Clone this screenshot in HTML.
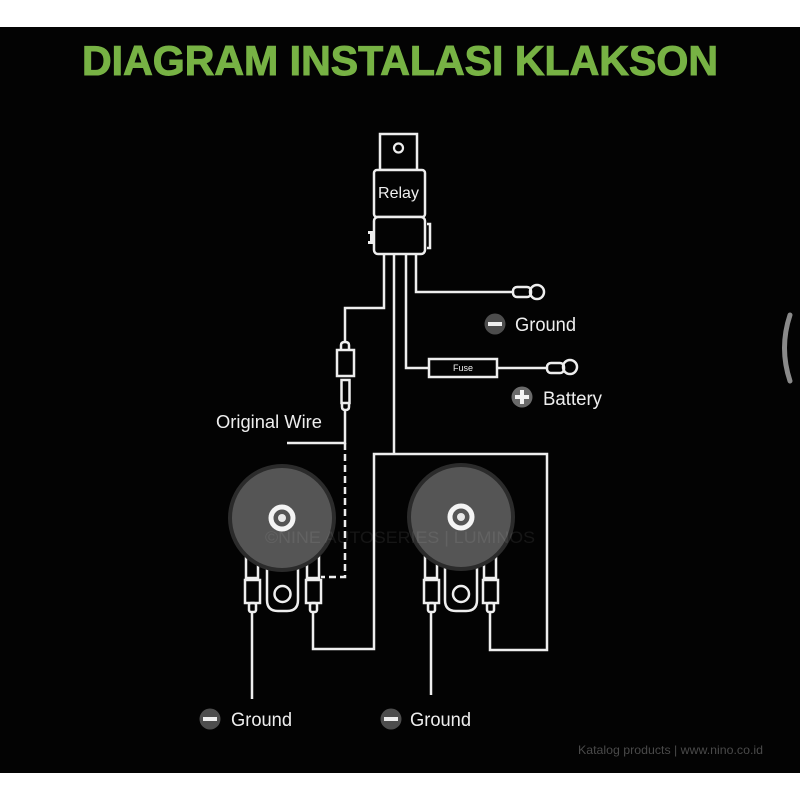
<!DOCTYPE html>
<html>
<head>
<meta charset="utf-8">
<style>
html,body{margin:0;padding:0;background:#fff;}
svg{display:block;}
</style>
</head>
<body>
<svg width="800" height="800" viewBox="0 0 800 800" xmlns="http://www.w3.org/2000/svg">
  <rect x="0" y="0" width="800" height="800" fill="#ffffff"/>
  <rect x="0" y="27" width="800" height="746" fill="#030303"/>

  <!-- Title -->
  <text x="82" y="75" font-family="Liberation Sans, sans-serif" font-weight="bold" font-size="42" fill="#77b244" stroke="#77b244" stroke-width="1" textLength="636" lengthAdjust="spacingAndGlyphs">DIAGRAM INSTALASI KLAKSON</text>

  <!-- right edge scroll arc -->
  <path d="M790 315 Q779 348 790 381" stroke="#8a8a8a" stroke-width="5" fill="none" stroke-linecap="round"/>

  <g stroke="#eeeeee" stroke-width="2.5" fill="none">
    <!-- Relay -->
    <rect x="380" y="134" width="37" height="36" fill="#030303"/>
    <circle cx="398.5" cy="148" r="4.5" stroke-width="2.2"/>
    <rect x="374" y="170" width="51" height="47" rx="3" fill="#030303"/>
    <rect x="374" y="217" width="51" height="37" rx="4" fill="#030303"/>
    <path d="M427 224 h3 v24 h-3"/>
    <!-- relay wires -->
    <path d="M384 254 V308 H345 V342"/>
    <path d="M394 254 V454"/>
    <path d="M406 254 V368 H429"/>
    <path d="M416 254 V292 H513"/>
    <!-- ground terminal -->
    <rect x="513" y="287" width="18" height="10" rx="4"/>
    <circle cx="537" cy="292" r="7"/>
    <!-- fuse -->
    <rect x="429" y="359" width="68" height="18"/>
    <path d="M497 368 H547"/>
    <rect x="547" y="363" width="17" height="10" rx="4"/>
    <circle cx="570" cy="367" r="7"/>

    <!-- original wire connector -->
    <path d="M341 350 V345 Q341 342 345 342 Q349 342 349 345 V350"/>
    <rect x="337" y="350" width="17" height="26"/>
    <rect x="341.5" y="380" width="8" height="23"/>
    <path d="M342 403 V407 Q342 410 345.5 410 Q349 410 349 407 V403"/>
    <path d="M345 410 V443 H287"/>
    <path d="M345 443 V577 H321" stroke-dasharray="7,4"/>

    <!-- horn connection loop -->
    <path d="M313 612 V649 H374 V454 H547 V650 H490 V612"/>
    <!-- ground wires -->
    <path d="M252 612 V699"/>
    <path d="M431 612 V695"/>

    <!-- left horn terminals -->
    <rect x="246" y="556" width="12" height="22"/>
    <rect x="245" y="580" width="15" height="23"/>
    <rect x="249" y="603" width="7" height="9" rx="2"/>
    <rect x="307" y="556" width="12" height="22"/>
    <rect x="306" y="580" width="15" height="23"/>
    <rect x="310" y="603" width="7" height="9" rx="2"/>
    <path d="M267 560 V600 Q267 611 278 611 H287 Q298 611 298 600 V560"/>
    <circle cx="282.5" cy="594" r="8"/>

    <!-- right horn terminals -->
    <rect x="425" y="556" width="12" height="22"/>
    <rect x="424" y="580" width="15" height="23"/>
    <rect x="428" y="603" width="7" height="9" rx="2"/>
    <rect x="484" y="556" width="12" height="22"/>
    <rect x="483" y="580" width="15" height="23"/>
    <rect x="487" y="603" width="7" height="9" rx="2"/>
    <path d="M445 560 V600 Q445 611 456 611 H466 Q477 611 477 600 V560"/>
    <circle cx="461" cy="594" r="8"/>
  </g>

  <!-- relay left notch -->
  <path d="M368 231 h6 v13 h-6 v-3 h2 v-7 h-2 z" fill="#eeeeee"/>

  <!-- horns -->
  <circle cx="282" cy="518" r="52" fill="#555555" stroke="#2b2b2b" stroke-width="4"/>
  <circle cx="282" cy="518" r="11" fill="none" stroke="#f4f4f4" stroke-width="5"/>
  <circle cx="282" cy="518" r="4" fill="#e8e8e8"/>
  <circle cx="461" cy="517" r="52" fill="#555555" stroke="#2b2b2b" stroke-width="4"/>
  <circle cx="461" cy="517" r="11" fill="none" stroke="#f4f4f4" stroke-width="5"/>
  <circle cx="461" cy="517" r="4" fill="#e8e8e8"/>

  <!-- watermark -->
  <text x="265" y="543" font-family="Liberation Sans, sans-serif" font-size="17" fill="#ffffff" fill-opacity="0.08" textLength="270" lengthAdjust="spacingAndGlyphs">©NINE AUTOSERIES | LUMINOS</text>

  <!-- labels -->
  <g font-family="Liberation Sans, sans-serif" fill="#eeeeee">
    <text x="398.5" y="198" font-size="16" text-anchor="middle">Relay</text>
    <text x="463" y="371" font-size="9" text-anchor="middle">Fuse</text>
    <text x="216" y="428" font-size="18.5" textLength="106" lengthAdjust="spacingAndGlyphs">Original Wire</text>
    <text x="515" y="331" font-size="19" textLength="61" lengthAdjust="spacingAndGlyphs">Ground</text>
    <text x="543" y="405" font-size="19" textLength="59" lengthAdjust="spacingAndGlyphs">Battery</text>
    <text x="231" y="726" font-size="19" textLength="61" lengthAdjust="spacingAndGlyphs">Ground</text>
    <text x="410" y="726" font-size="19" textLength="61" lengthAdjust="spacingAndGlyphs">Ground</text>
  </g>

  <!-- minus / plus icons -->
  <circle cx="495" cy="324" r="10.5" fill="#4d4d4d"/>
  <rect x="488" y="322" width="14" height="4" fill="#eeeeee"/>
  <circle cx="522" cy="397" r="10.5" fill="#6a6a6a"/>
  <rect x="515" y="395" width="14" height="4" fill="#f4f4f4"/>
  <rect x="520" y="390" width="4" height="14" fill="#f4f4f4"/>
  <circle cx="210" cy="719" r="10.5" fill="#4d4d4d"/>
  <rect x="203" y="717" width="14" height="4" fill="#eeeeee"/>
  <circle cx="391" cy="719" r="10.5" fill="#4d4d4d"/>
  <rect x="384" y="717" width="14" height="4" fill="#eeeeee"/>

  <!-- footer -->
  <text x="578" y="754" font-family="Liberation Sans, sans-serif" font-size="12" fill="#4a4a4a" textLength="185" lengthAdjust="spacingAndGlyphs">Katalog products  |  www.nino.co.id</text>
</svg>
</body>
</html>
